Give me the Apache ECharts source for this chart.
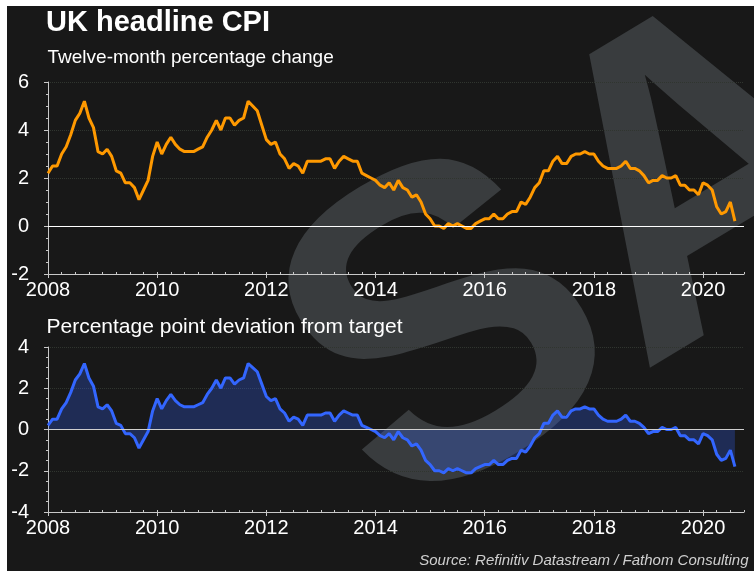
<!DOCTYPE html>
<html>
<head>
<meta charset="utf-8">
<script src="https://cdn.jsdelivr.net/npm/echarts@6/dist/echarts.min.js"></script>
<style>
  html, body { margin: 0; padding: 0; background: #fff; }
  #chart { position: absolute; left: 0; top: 0; width: 754px; height: 571px; }
  .edge { position: absolute; background: #fff; }
</style>
</head>
<body>
<div id="chart"></div>
<div class="edge" style="left:0;top:0;width:754px;height:6px"></div>
<div class="edge" style="left:0;top:0;width:7px;height:571px"></div>
<script>
// monthly, Jan 2008 - Aug 2020
const startYear = 2008;
const yearTicks = [2008, 2010, 2012, 2014, 2016, 2018, 2020];

// twelve-month CPI inflation, %
const cpi = [
  2.2, 2.5, 2.5, 3.0, 3.3, 3.8, 4.4, 4.7, 5.2, 4.5, 4.1, 3.1,
  3.0, 3.2, 2.9, 2.3, 2.2, 1.8, 1.8, 1.6, 1.1, 1.5, 1.9, 2.9,
  3.5, 3.0, 3.4, 3.7, 3.4, 3.2, 3.1, 3.1, 3.1, 3.2, 3.3, 3.7,
  4.0, 4.4, 4.0, 4.5, 4.5, 4.2, 4.4, 4.5, 5.2, 5.0, 4.8, 4.2,
  3.6, 3.4, 3.5, 3.0, 2.8, 2.4, 2.6, 2.5, 2.2, 2.7, 2.7, 2.7,
  2.7, 2.8, 2.8, 2.4, 2.7, 2.9, 2.8, 2.7, 2.7, 2.2, 2.1, 2.0,
  1.9, 1.7, 1.6, 1.8, 1.5, 1.9, 1.6, 1.5, 1.2, 1.3, 1.0, 0.5,
  0.3, 0.0, 0.0, -0.1, 0.1, 0.0, 0.1, 0.0, -0.1, -0.1, 0.1, 0.2,
  0.3, 0.3, 0.5, 0.3, 0.3, 0.5, 0.6, 0.6, 1.0, 0.9, 1.2, 1.6,
  1.8, 2.3, 2.3, 2.7, 2.9, 2.6, 2.6, 2.9, 3.0, 3.0, 3.1, 3.0,
  3.0, 2.7, 2.5, 2.4, 2.4, 2.4, 2.5, 2.7, 2.4, 2.4, 2.3, 2.1,
  1.8, 1.9, 1.9, 2.1, 2.0, 2.0, 2.1, 1.7, 1.7, 1.5, 1.5, 1.3,
  1.8, 1.7, 1.5, 0.8, 0.5, 0.6, 1.0, 0.2
];

// percentage point deviation from the 2% target
const deviation = [
  0.2, 0.5, 0.5, 1.0, 1.3, 1.8, 2.4, 2.7, 3.2, 2.5, 2.1, 1.1,
  1.0, 1.2, 0.9, 0.3, 0.2, -0.2, -0.2, -0.4, -0.9, -0.5, -0.1, 0.9,
  1.5, 1.0, 1.4, 1.7, 1.4, 1.2, 1.1, 1.1, 1.1, 1.2, 1.3, 1.7,
  2.0, 2.4, 2.0, 2.5, 2.5, 2.2, 2.4, 2.5, 3.2, 3.0, 2.8, 2.2,
  1.6, 1.4, 1.5, 1.0, 0.8, 0.4, 0.6, 0.5, 0.2, 0.7, 0.7, 0.7,
  0.7, 0.8, 0.8, 0.4, 0.7, 0.9, 0.8, 0.7, 0.7, 0.2, 0.1, 0.0,
  -0.1, -0.3, -0.4, -0.2, -0.5, -0.1, -0.4, -0.5, -0.8, -0.7, -1.0, -1.5,
  -1.7, -2.0, -2.0, -2.1, -1.9, -2.0, -1.9, -2.0, -2.1, -2.1, -1.9, -1.8,
  -1.7, -1.7, -1.5, -1.7, -1.7, -1.5, -1.4, -1.4, -1.0, -1.1, -0.8, -0.4,
  -0.2, 0.3, 0.3, 0.7, 0.9, 0.6, 0.6, 0.9, 1.0, 1.0, 1.1, 1.0,
  1.0, 0.7, 0.5, 0.4, 0.4, 0.4, 0.5, 0.7, 0.4, 0.4, 0.3, 0.1,
  -0.2, -0.1, -0.1, 0.1, 0.0, 0.0, 0.1, -0.3, -0.3, -0.5, -0.5, -0.7,
  -0.2, -0.3, -0.5, -1.2, -1.5, -1.4, -1.0, -1.8
];

const months = cpi.map((_, i) => startYear + i / 12);

const FONT = '"Liberation Sans", Arial, sans-serif';
const AXIS = '#c8c8c8';

const chart = echarts.init(document.getElementById('chart'));

function quarterAxis(gridIndex) {
  return {
    type: 'value',
    gridIndex: gridIndex,
    position: 'bottom',
    min: 2008,
    max: 2020.75,
    interval: 0.25,
    axisLine: { show: true, onZero: false, lineStyle: { color: AXIS, width: 1 } },
    axisTick: { show: true, inside: true, length: 2, lineStyle: { color: AXIS } },
    axisLabel: { show: false },
    splitLine: { show: false },
  };
}

function yearAxis(gridIndex) {
  return {
    type: 'value',
    gridIndex: gridIndex,
    position: 'bottom',
    min: 2008,
    max: 2020.75,
    axisLine: { show: false, onZero: false },
    axisTick: { show: true, length: 4, customValues: yearTicks, lineStyle: { color: AXIS } },
    axisLabel: {
      customValues: yearTicks,
      color: '#fff',
      fontSize: 20,
      fontFamily: FONT,
      margin: 6,
      formatter: (v) => String(v),
    },
    splitLine: { show: false },
  };
}

function valueAxis(gridIndex, min, max) {
  return {
    type: 'value',
    gridIndex: gridIndex,
    min: min,
    max: max,
    interval: 2,
    axisLine: { show: true, onZero: false, lineStyle: { color: AXIS, width: 1 } },
    axisTick: { show: true, length: 4, lineStyle: { color: AXIS } },
    minorTick: { show: true, splitNumber: 4, length: 2, lineStyle: { color: AXIS } },
    axisLabel: { color: '#fff', fontSize: 20, fontFamily: FONT, margin: 19 },
    splitLine: { show: true, lineStyle: { color: '#30352f', type: 'dotted' } },
  };
}

function zeroLine(color) {
  return {
    silent: true,
    symbol: 'none',
    label: { show: false },
    lineStyle: { color: color, width: 1, type: 'solid' },
    data: [{ yAxis: 0 }],
  };
}

chart.setOption({
  backgroundColor: '#181818',
  animation: false,
  graphic: [
    {
      type: 'text',
      x: 589,
      y: 264,
      rotation: (31 * Math.PI) / 180,
      z: -10,
      silent: true,
      style: {
        text: 'SA',
        fill: '#393c3e',
        font: 'bold 436px ' + FONT,
        textAlign: 'center',
        textVerticalAlign: 'middle',
      },
    },
    {
      type: 'text',
      x: 46,
      y: 8.8,
      style: { text: 'UK headline CPI', fill: '#fff', font: 'bold 29px ' + FONT, textVerticalAlign: 'top' },
    },
    {
      type: 'text',
      x: 47.5,
      y: 48.5,
      style: { text: 'Twelve-month percentage change', fill: '#fff', font: '19px ' + FONT, textVerticalAlign: 'top' },
    },
    {
      type: 'text',
      x: 46.5,
      y: 316.8,
      style: { text: 'Percentage point deviation from target', fill: '#fff', font: '21px ' + FONT, textVerticalAlign: 'top' },
    },
    {
      type: 'text',
      x: 748.5,
      y: 553,
      style: {
        text: 'Source: Refinitiv Datastream / Fathom Consulting',
        fill: '#cfcfcf',
        font: 'italic 15px ' + FONT,
        textAlign: 'right',
        textVerticalAlign: 'top',
      },
    },
  ],
  grid: [
    { left: 48, right: 10, top: 82, height: 192 },
    { left: 48, right: 10, top: 347, height: 165 },
  ],
  xAxis: [quarterAxis(0), yearAxis(0), quarterAxis(1), yearAxis(1)],
  yAxis: [valueAxis(0, -2, 6), valueAxis(1, -4, 4)],
  series: [
    {
      type: 'line',
      xAxisIndex: 0,
      yAxisIndex: 0,
      data: cpi.map((v, i) => [months[i], v]),
      symbol: 'none',
      lineStyle: { color: '#ff9900', width: 3 },
      markLine: zeroLine('#ffffff'),
    },
    {
      type: 'line',
      xAxisIndex: 2,
      yAxisIndex: 1,
      data: deviation.map((v, i) => [months[i], v]),
      symbol: 'none',
      lineStyle: { color: '#3366ff', width: 3 },
      areaStyle: { color: 'rgba(51,102,255,0.38)', origin: 0 },
      markLine: zeroLine('#cfcfcf'),
    },
  ],
});
</script>
</body>
</html>
